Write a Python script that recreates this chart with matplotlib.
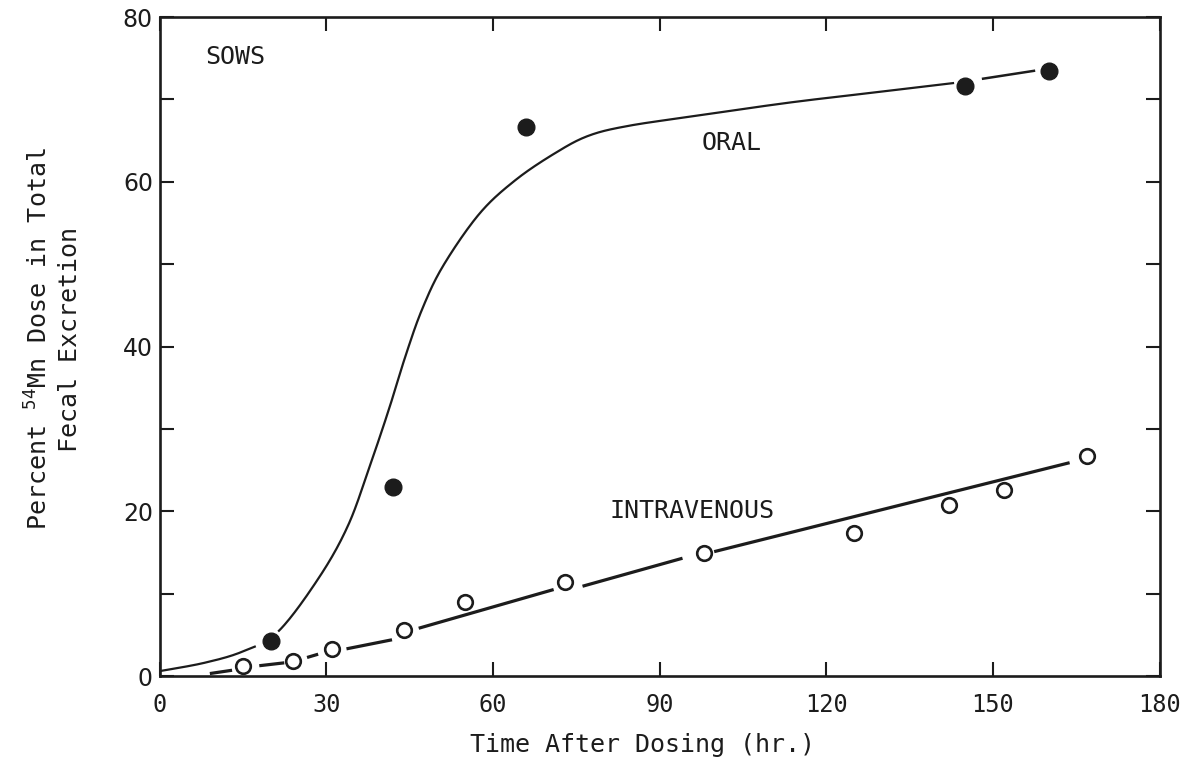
import numpy as np
import matplotlib
matplotlib.use("Agg")
import matplotlib.pyplot as plt

# values (hours after dosing, % of dose)
oral_hr = [20, 42, 66, 145, 160]
oral_pct = [4.3, 23.0, 66.6, 71.6, 73.4]

iv_hr = [15, 24, 31, 44, 55, 73, 98, 125, 142, 152, 167]
iv_pct = [1.2, 1.8, 3.3, 5.6, 9.0, 11.4, 14.9, 17.4, 20.8, 22.6, 26.7]

# hand drawn fitted curve for the oral group (knots)
oral_fit_hr = [0, 8, 15, 21.3, 28.7, 33.9, 37.8, 41.2, 44.2, 47.2, 51, 57.5,
               64, 71.2, 77.2, 84.4, 96.4, 113.1, 128, 143]
oral_fit_pct = [0.6, 1.6, 3.0, 5.4, 12.0, 18.3, 25.5, 32.3, 38.8, 44.5, 49.8, 56.1,
                60.2, 63.5, 65.6, 66.8, 68.0, 69.6, 70.8, 72.0]
oral_tail_hr = [148, 157.6]
oral_tail_pct = [72.5, 73.5]

# intravenous fit line, drawn in pieces between the circles
iv_fit_segments = [
    ([9, 13], [0.3, 0.7]),
    ([17.9, 22.4], [1.25, 1.6]),
    ([26.5, 28.5], [2.25, 2.65]),
    ([33.6, 41.8], [3.3, 4.4]),
    ([46.6, 70.9], [5.8, 10.5]),
    ([76.1, 94.1], [10.9, 14.3]),
    ([99.8, 163.8], [15.1, 25.9]),
]

x_ticks = [0, 30, 60, 90, 120, 150, 180]
y_ticks = [0, 10, 20, 30, 40, 50, 60, 70, 80]
y_ticklabels = ["0", "", "20", "", "40", "", "60", "", "80"]

ink = "#1c1c1c"
mono = "DejaVu Sans Mono"
plt.rcParams["mathtext.fontset"] = "custom"
plt.rcParams["mathtext.rm"] = mono


def catmull(xs, ys, n=25):
    P = np.column_stack([xs, ys]).astype(float)
    P = np.vstack([P[0], P, P[-1]])
    out = []
    t = np.linspace(0, 1, n, endpoint=False)[:, None]
    for i in range(1, len(P) - 2):
        p0, p1, p2, p3 = P[i - 1], P[i], P[i + 1], P[i + 2]
        out.append(0.5 * (2 * p1 + (-p0 + p2) * t
                          + (2 * p0 - 5 * p1 + 4 * p2 - p3) * t ** 2
                          + (-p0 + 3 * p1 - 3 * p2 + p3) * t ** 3))
    out.append(P[-2][None])
    c = np.vstack(out)
    return c[:, 0], c[:, 1]


fig = plt.figure(figsize=(11.93, 7.6), dpi=100)
ax = fig.add_axes([0.134, 0.1105, 0.838, 0.867])

# oral curve with a small break beside the 20 h point
cx, cy = catmull(oral_fit_hr, oral_fit_pct)
cy = np.where((cx > 17.3) & (cx < 21.2), np.nan, cy)
ax.plot(cx, cy, color=ink, lw=1.6, solid_capstyle="butt")
ax.plot(oral_tail_hr, oral_tail_pct, color=ink, lw=1.8, solid_capstyle="butt")

for sx, sy in iv_fit_segments:
    ax.plot(sx, sy, color=ink, lw=2.3, solid_capstyle="butt")

ax.plot(oral_hr, oral_pct, "o", ms=12, color=ink, mec=ink, zorder=5)
ax.plot(iv_hr, iv_pct, "o", ms=10.5, mfc="white", mec=ink, mew=1.9, zorder=5)

ax.text(13.6, 75.1, "SOWS", fontsize=18, family=mono, color=ink, ha="center", va="center")
ax.text(103, 64.7, "ORAL", fontsize=18, family=mono, color=ink, ha="center", va="center")
ax.text(95.8, 20.0, "INTRAVENOUS", fontsize=18, family=mono, color=ink,
        ha="center", va="center")

ax.set_xlim(0, 180)
ax.set_ylim(0, 80)
ax.set_xticks(x_ticks)
ax.set_xticklabels([str(v) for v in x_ticks], family=mono, fontsize=17, color=ink)
ax.set_yticks(y_ticks)
ax.set_yticklabels(y_ticklabels, fontsize=17, color=ink)
ax.tick_params(axis="x", direction="in", length=10, width=1.5, color=ink,
               top=True, pad=12)
ax.tick_params(axis="y", direction="in", length=10, width=1.5, color=ink,
               right=True, pad=5)
for s in ax.spines.values():
    s.set_linewidth(1.9)
    s.set_color(ink)

fig.text(643 / 1193, 1 - 745 / 760, "Time After Dosing (hr.)", fontsize=18,
         family=mono, color=ink, ha="center", va="center")
fig.text(53.5 / 1193, 1 - 339 / 760,
         "Percent $^{54}$Mn Dose in Total\nFecal Excretion", fontsize=18,
         family=mono, color=ink, ha="center", va="center", rotation=90,
         multialignment="center", linespacing=1.3)

fig.savefig("out.png", dpi=100, facecolor="white")
